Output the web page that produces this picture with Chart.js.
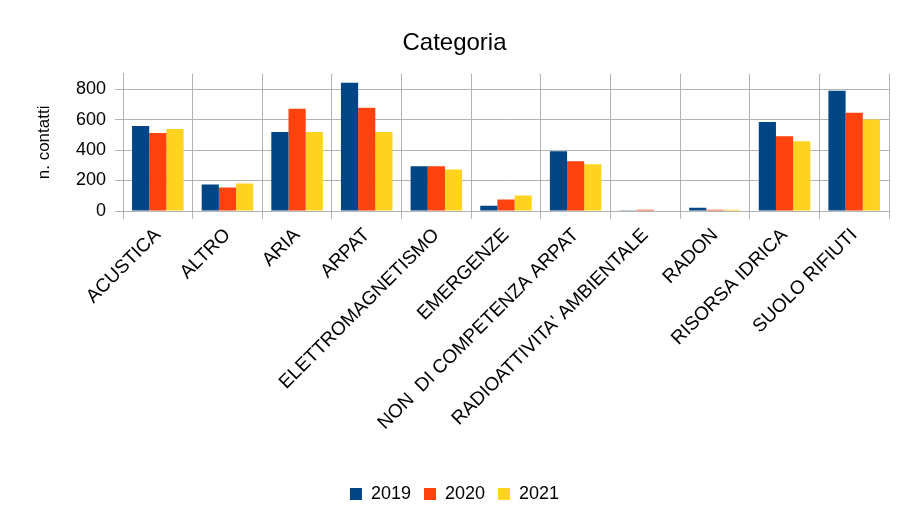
<!DOCTYPE html>
<html>
<head>
<meta charset="utf-8">
<script src="https://cdn.jsdelivr.net/npm/chart.js@4/dist/chart.umd.min.js"></script>
<style>
html,body{margin:0;padding:0;background:#fff;}
#wrap{width:907px;height:510px;position:relative;}
</style>
</head>
<body>
<div id="wrap"><canvas id="c" width="907" height="510"></canvas></div>
<script>
const categories = ["ACUSTICA","ALTRO","ARIA","ARPAT","ELETTROMAGNETISMO","EMERGENZE","NON  DI COMPETENZA ARPAT","RADIOATTIVITA' AMBIENTALE","RADON","RISORSA IDRICA","SUOLO RIFIUTI"];
const seriesNames = ["2019","2020","2021"];
const values2019 = [557,174,518,842,293,35,392,2,22,584,789];
const values2020 = [511,154,670,677,293,75,326,9,9,491,644];
const values2021 = [538,181,518,518,273,101,306,3,9,458,600];
const colors = ["#004586","#ff420e","#ffd320"];
const yTickLabels = [0,200,400,600,800];

const FONT = "'Liberation Sans', Arial, sans-serif";
Chart.defaults.font.family = FONT;
Chart.defaults.color = "#000";

new Chart(document.getElementById('c'), {
  type: 'bar',
  data: {
    labels: categories,
    datasets: [values2019, values2020, values2021].map((v, i) => ({
      label: seriesNames[i],
      data: v,
      backgroundColor: colors[i],
      borderWidth: 0,
      categoryPercentage: 0.74,
      barPercentage: 1.0
    }))
  },
  options: {
    responsive: false,
    animation: false,
    devicePixelRatio: 1,
    layout: { padding: { left: 20, right: 18, top: 0, bottom: -3 } },
    plugins: {
      title: {
        display: true,
        text: 'Categoria',
        font: { size: 24, weight: 'normal', family: FONT },
        color: '#000',
        padding: { top: 29, bottom: 16 }
      },
      legend: {
        position: 'bottom',
        labels: {
          boxWidth: 12,
          boxHeight: 12,
          padding: 13,
          font: { size: 18, family: FONT },
          color: '#000'
        }
      },
      tooltip: { enabled: false }
    },
    scales: {
      x: {
        grid: { color: '#b3b3b3', offset: true, tickLength: 8, drawTicks: true },
        border: { color: '#b3b3b3' },
        ticks: {
          minRotation: 45, maxRotation: 45,
          autoSkip: false,
          padding: 5,
          font: { size: 19, family: FONT },
          color: '#000'
        },
        afterFit: (s) => { s.height = 261; }
      },
      y: {
        min: 0, max: 900,
        grid: { color: '#b3b3b3', tickLength: 8 },
        border: { color: '#b3b3b3' },
        ticks: {
          stepSize: 100,
          padding: 9,
          font: { size: 18, family: FONT },
          color: '#000',
          callback: (v) => yTickLabels.includes(v) ? String(v) : ''
        },
        title: {
          display: true,
          text: 'n. contatti',
          font: { size: 17, family: FONT },
          color: '#000',
          padding: { top: 14, bottom: 4 }
        },
        afterFit: (s) => { s.width = 103; }
      }
    }
  }
});
</script>
</body>
</html>
